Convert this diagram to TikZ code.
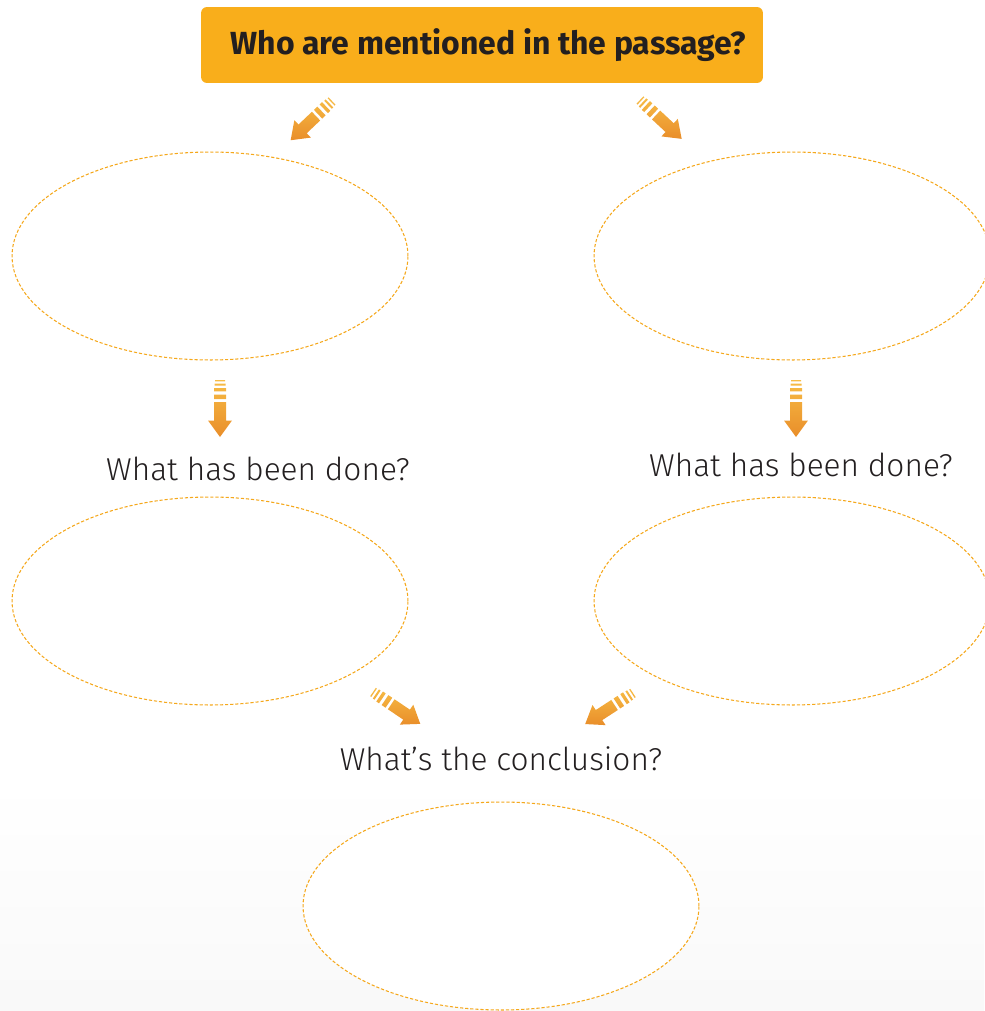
\documentclass[tikz,border=0pt]{standalone}
\usepackage{fontspec}
\setmainfont{Fira Sans}
\newfontfamily\labelfont{Fira Sans Light}
\usetikzlibrary{shapes.geometric}
\definecolor{banner}{HTML}{F9AE1B}
\definecolor{ink}{HTML}{231F20}
\definecolor{rim}{HTML}{F5A81C}
\definecolor{arrowdark}{HTML}{E98E2A}
\definecolor{arrowlight}{HTML}{F7BC45}
\tikzset{
  bannerbox/.style={rectangle, rounded corners=0.12cm, fill=banner, text=ink, minimum width=11.24cm, minimum height=1.52cm, inner sep=0pt, font=\bfseries\fontsize{18.2}{22}\selectfont},
  bubble/.style={ellipse, draw=rim, fill=white, line width=0.6pt, dash pattern=on 1.8pt off 1.1pt, minimum width=7.92cm, minimum height=4.16cm, inner sep=0pt},
  ask/.style={text=ink, inner sep=0pt, font=\labelfont\fontsize{18}{21}\selectfont},
  pics/fatarrow/.style={code={
    \shade[top color=arrowlight, bottom color=arrowdark]
      (0,-5) rectangle (1.3,5)
      (3.5,-5.5) rectangle (5.5,5.5)
      (8,-6) rectangle (11.3,6)
      (14.5,-6) rectangle (19.2,6)
      (22,-6) -- (40.5,-6) -- (40.5,-12) -- (57,0) -- (40.5,12) -- (40.5,6) -- (22,6) -- cycle;
  }}
}

\begin{document}
\begin{tikzpicture}[x=0.02cm,y=-0.02cm]
  \useasboundingbox (0,0) rectangle (984,1011);
  \shade[top color=white, bottom color=gray!5] (0,780) rectangle (984,1011);

  % question banner
  \node[bannerbox] (who) at (482,45) {\hspace{0.26cm}Who are mentioned in the passage?};

  % people
  \node[bubble] (pl) at (210,256) {};
  \node[bubble] (pr) at (792,256) {};

  % what they did
  \node[ask] (donel) at (258,469) {What has been done?};
  \node[ask] (doner) at (801,465) {What has been done?};
  \node[bubble] (dl) at (210,601) {};
  \node[bubble] (dr) at (792,601) {};

  % conclusion
  \node[ask] (concl) at (501,759) {What’s the conclusion?};
  \node[bubble] (cc) at (501,906) {};

  % arrows
  \coordinate (tl) at (332,101);
  \coordinate (tr) at (640,100);
  \coordinate (ml) at (220,380);
  \coordinate (mr) at (796,380);
  \coordinate (bl) at (373,692);
  \coordinate (br) at (633,693);
  \pic[rotate=223.5] at (tl) {fatarrow};
  \pic[rotate=-43]   at (tr) {fatarrow};
  \pic[rotate=-90]   at (ml) {fatarrow};
  \pic[rotate=-90]   at (mr) {fatarrow};
  \pic[rotate=-34]   at (bl) {fatarrow};
  \pic[rotate=213]   at (br) {fatarrow};
\end{tikzpicture}
\end{document}
